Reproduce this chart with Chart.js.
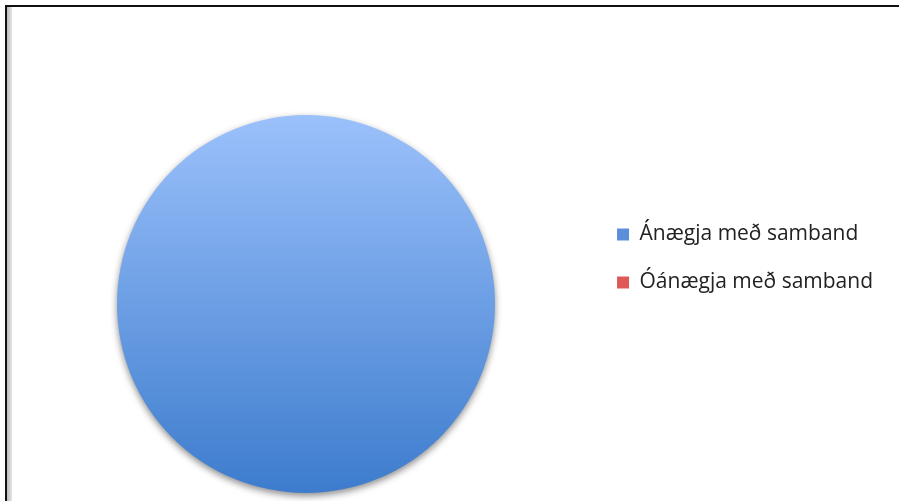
<!DOCTYPE html>
<html>
<head>
<meta charset="utf-8">
<script src="https://cdn.jsdelivr.net/npm/chart.js@4.4.1/dist/chart.umd.min.js"></script>
<style>
  body { margin: 0; background: #fff; overflow: hidden; }
  #wrap { position: relative; width: 899px; height: 501px; overflow: hidden; }
  .topline { position: absolute; left: 5px; top: 5px; width: 894px; height: 2px; background: #111; }
  .leftline { position: absolute; left: 5px; top: 5px; width: 2px; height: 496px; background: #111; }
  .shade { position: absolute; left: 7px; top: 7px; width: 5px; height: 494px;
           background: linear-gradient(to right, #bdbdbd, #e6e6e6); }
  canvas { position: absolute; left: 0; top: 0; }
</style>
</head>
<body>
<div id="wrap">
  <div class="topline"></div>
  <div class="leftline"></div>
  <div class="shade"></div>
  <canvas id="pieChart" width="899" height="501"></canvas>
</div>
<script>
// data
const labels = ['Ánægja með samband', 'Óánægja með samband'];
const values = [100, 0];
const legendColors = ['#5b8fdc', '#de5858'];

// blue gradient for the big slice, red for the empty one
function sliceColor(context) {
    const chart = context.chart;
    const area = chart.chartArea;
    if (!area) return legendColors[context.dataIndex];
    if (context.dataIndex === 1) return legendColors[1];
    const g = chart.ctx.createLinearGradient(0, area.top, 0, area.bottom);
    g.addColorStop(0, '#9bc1fb');
    g.addColorStop(1, '#3d7ccd');
    return g;
}

const shadowPlugin = {
    id: 'pieShadow',
    beforeDatasetsDraw(chart) {
        const ctx = chart.ctx;
        ctx.save();
        ctx.shadowColor = 'rgba(0,0,0,0.45)';
        ctx.shadowBlur = 7;
        ctx.shadowOffsetY = 3;
    },
    afterDatasetsDraw(chart) {
        chart.ctx.restore();
    }
};

const ctx = document.getElementById('pieChart').getContext('2d');
new Chart(ctx, {
    type: 'pie',
    data: {
        labels: labels,
        datasets: [{
            data: values,
            backgroundColor: sliceColor,
            borderWidth: 0
        }]
    },
    options: {
        responsive: false,
        animation: false,
        layout: {
            padding: { top: 115, bottom: 8, left: 22, right: 16 }
        },
        plugins: {
            tooltip: { enabled: false },
            legend: {
                position: 'right',
                align: 'start',
                title: {
                    display: true,
                    text: '',
                    font: { size: 10, lineHeight: 1 },
                    padding: { top: 72, bottom: 0 }
                },
                labels: {
                    boxWidth: 12,
                    boxHeight: 12,
                    padding: 27,
                    color: '#222',
                    font: { family: 'Open Sans', size: 21 },
                    generateLabels(chart) {
                        const items = Chart.overrides.pie.plugins.legend.labels.generateLabels(chart);
                        items.forEach((it, i) => {
                            it.fillStyle = legendColors[i];
                            it.strokeStyle = legendColors[i];
                            it.lineWidth = 0;
                            it.hidden = false;
                        });
                        return items;
                    }
                }
            }
        }
    },
    plugins: [shadowPlugin]
});
</script>
</body>
</html>
